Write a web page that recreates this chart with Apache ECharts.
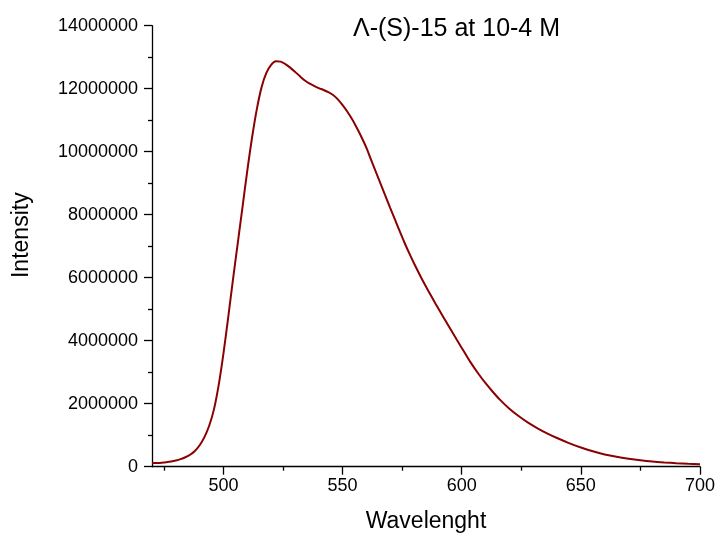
<!DOCTYPE html>
<html>
<head>
<meta charset="utf-8">
<script src="https://cdn.jsdelivr.net/npm/echarts@6/dist/echarts.min.js"></script>
<style>html,body{margin:0;padding:0;background:#fff}#c{width:719px;height:536px}</style>
</head>
<body>
<div id="c"></div>
<script>
var titleText = 'Λ-(S)-15 at 10-4 M';
var xName = 'Wavelenght';
var yName = 'Intensity';
var xMajorTicks = [500, 550, 600, 650, 700];
var xMinorTicks = [475, 525, 575, 625, 675];
var wavelength = [470,472,474,476,478,480,482,484,486,488,490,492,494,496,498,500,502,504,506,508,510,512,514,516,518,520,522,524,526,528,530,532,534,536,538,540,542,544,546,548,550,552,554,556,558,560,562,564,566,568,570,572,574,576,578,580,583,586,589,592,595,598,601,604,607,610,613,616,620,624,628,632,636,640,645,650,655,660,665,670,675,680,685,690,695,700];
var intensity = [110000,118000,128000,142000,162000,195000,240000,300000,380000,500000,680000,940000,1300000,1820000,2600000,3600000,4750000,5950000,7100000,8250000,9400000,10450000,11350000,12050000,12500000,12760000,12870000,12860000,12780000,12670000,12540000,12400000,12270000,12170000,12090000,12020000,11960000,11890000,11800000,11660000,11480000,11270000,11030000,10750000,10450000,10120000,9730000,9350000,8970000,8590000,8210000,7840000,7470000,7110000,6770000,6450000,6000000,5580000,5175000,4785000,4400000,4020000,3650000,3280000,2950000,2650000,2380000,2130000,1840000,1600000,1390000,1210000,1050000,910000,750000,610000,490000,390000,315000,255000,205000,165000,135000,110000,90000,75000];

var seriesData = wavelength.map(function (w, i) { return [w, intensity[i]]; });
var FONT = '"Liberation Sans", Arial, sans-serif';
var chart = echarts.init(document.getElementById('c'), null, {renderer: 'canvas'});
chart.setOption({
  backgroundColor: '#ffffff',
  animation: false,
  title: {
    text: titleText,
    left: 353, top: 17, padding: 0,
    textStyle: {fontFamily: FONT, fontSize: 25, fontWeight: 'normal', color: '#000'}
  },
  grid: {left: 152, right: 19, top: 25.7, bottom: 69.3, containLabel: false, outerBoundsMode: 'none'},
  xAxis: [{
    type: 'value', min: 470, max: 700,
    name: xName, nameLocation: 'middle', nameGap: 43,
    nameTextStyle: {fontFamily: FONT, fontSize: 23, color: '#000'},
    axisLine: {show: true, onZero: false, lineStyle: {color: '#000', width: 1.3}},
    axisTick: {show: true, length: 8, customValues: xMajorTicks, lineStyle: {color: '#000', width: 1.3}},
    axisLabel: {customValues: xMajorTicks, fontFamily: FONT, fontSize: 18, color: '#000', margin: 10},
    splitLine: {show: false}
  }, {
    type: 'value', min: 470, max: 700, position: 'bottom',
    axisLine: {show: false},
    axisTick: {show: true, length: 4, customValues: xMinorTicks, lineStyle: {color: '#000', width: 1.3}},
    axisLabel: {show: false},
    splitLine: {show: false}
  }],
  yAxis: {
    type: 'value', min: 0, max: 14000000, interval: 2000000,
    name: yName, nameLocation: 'middle', nameGap: 119,
    nameTextStyle: {fontFamily: FONT, fontSize: 23, color: '#000', padding: [0, 0, 0, 22]},
    axisLine: {show: true, onZero: false, lineStyle: {color: '#000', width: 1.3}},
    axisTick: {show: true, length: 8, lineStyle: {color: '#000', width: 1.3}},
    minorTick: {show: true, splitNumber: 2, length: 4, lineStyle: {color: '#000', width: 1.3}},
    axisLabel: {fontFamily: FONT, fontSize: 18, color: '#000', margin: 14, formatter: function (v) { return String(v); }},
    splitLine: {show: false},
    minorSplitLine: {show: false}
  },
  series: [{
    type: 'line', xAxisIndex: 0, data: seriesData, showSymbol: false, smooth: 0.3,
    lineStyle: {color: '#8b0000', width: 2}, itemStyle: {color: '#8b0000'}
  }]
});
</script>
</body>
</html>
